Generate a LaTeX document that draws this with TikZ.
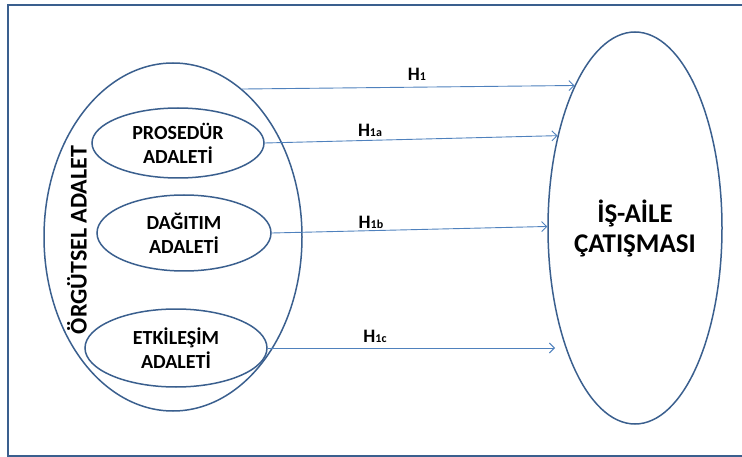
\documentclass[tikz,border=0pt]{standalone}
\usepackage{fontspec}
\setmainfont{Carlito}
\usetikzlibrary{shapes.geometric,arrows.meta}
\definecolor{edgeblue}{HTML}{3A5F8E}
\definecolor{arrowblue}{HTML}{4F81BD}
\begin{document}
\begin{tikzpicture}[x=1pt,y=-1pt,
  oval/.style={ellipse, draw=edgeblue, line width=1.5pt, inner sep=0pt, align=center, font=\bfseries\fontsize{20}{24}\selectfont},
  conn/.style={draw=arrowblue, line width=0.9pt, -{Straight Barb[length=5pt,width=10pt]}},
  hlabel/.style={font=\bfseries\fontsize{19}{19}\selectfont, inner sep=0pt}]
\useasboundingbox (0,0) rectangle (742,457);
\draw[edgeblue, line width=1.8pt] (8,5) rectangle (790,456);
% left grouping ellipse
\node[oval, minimum width=258pt, minimum height=348pt] (L) at (173,237) {};
\node[rotate=90, inner sep=0pt, font=\bfseries\fontsize{24}{24}\selectfont] (Lt) at (77,240) {ÖRGÜTSEL ADALET};
% inner ellipses
\node[oval, minimum width=172pt, minimum height=70pt] (P) at (178,143) {PROSEDÜR\\ADALETİ};
\node[oval, minimum width=174pt, minimum height=76pt] (D) at (184,233) {DAĞITIM\\ADALETİ};
\node[oval, minimum width=182pt, minimum height=78pt] (E) at (176,348) {ETKİLEŞİM\\ADALETİ};
% right ellipse
\node[oval, minimum width=174pt, minimum height=392pt, font=\bfseries\fontsize{27}{30}\selectfont] (R) at (635,228) {İŞ-AİLE\\ÇATIŞMASI};
\coordinate (e1c) at (555,348);
% connectors
\draw[conn] (L.65.8) -- (R.113.9);
\draw[conn] (P.east) -- (R.130.4);
\draw[conn] (D.east) -- (R.179);
\draw[conn] (E.east) -- (e1c);
% labels
\node[hlabel] (h1) at (417,74) {H{\fontsize{12}{12}\selectfont 1}};
\node[hlabel] (h1a) at (370,130) {H{\fontsize{12}{12}\selectfont 1a}};
\node[hlabel] (h1b) at (371,222) {H{\fontsize{12}{12}\selectfont 1b}};
\node[hlabel] (h1c) at (375,336) {H{\fontsize{12}{12}\selectfont 1c}};
\end{tikzpicture}
\end{document}
